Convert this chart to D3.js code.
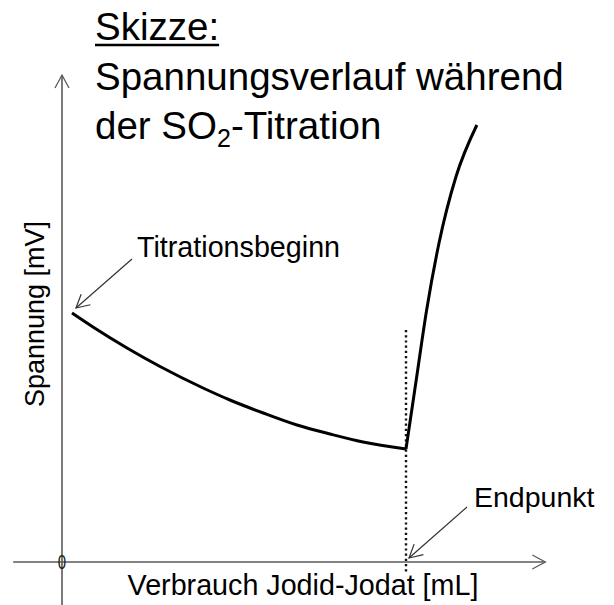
<!DOCTYPE html>
<html>
<head>
<meta charset="utf-8">
<script src="https://cdn.jsdelivr.net/npm/d3@7"></script>
<style>
  html, body { margin: 0; padding: 0; background: #fff; }
  svg { display: block; font-family: "Liberation Sans", Arial, sans-serif; }
</style>
</head>
<body>
<svg id="chart" width="614" height="605"></svg>
<script>
// ---- data (sketch values) ----
const fallVolume  = [0.29, 0.90, 1.89, 2.85, 4.10, 4.88, 5.85, 6.83, 7.79, 8.75, 10.0];
const fallVoltage = [249, 235, 214, 195.5, 174, 162, 149, 137, 128, 120, 113];
const riseVolume  = [10.0, 10.125, 10.31, 10.60, 10.96, 11.45, 12.06];
const riseVoltage = [113, 142, 185, 252, 319, 385, 437];
const endpointVolume = 10.0;
const endpointVoltageRange = [-10, 232];
const originLabel = "0";
const titleLines = ["Skizze:", "Spannungsverlauf während", "der SO", "2", "-Titration"];
const xLabel = "Verbrauch Jodid-Jodat [mL]";
const yLabel = "Spannung [mV]";
const startLabel = "Titrationsbeginn";
const endLabel = "Endpunkt";

// ---- layout ----
const svg = d3.select("#chart");
const x = d3.scaleLinear().domain([0, 10]).range([62, 406]);
const y = d3.scaleLinear().domain([0, 500]).range([562, 62]);
const xAxisExtent = [-1.42, 14.05];
const yAxisExtent = [-43, 487];
const axisColor = "#5a5a5a";

// arrowhead marker (open chevron)
const defs = svg.append("defs");
function chevron(id, size, color, width) {
  defs.append("marker")
    .attr("id", id)
    .attr("viewBox", "-14 -8 16 16")
    .attr("refX", 0).attr("refY", 0)
    .attr("markerWidth", size).attr("markerHeight", size)
    .attr("markerUnits", "userSpaceOnUse")
    .attr("orient", "auto")
    .append("path")
    .attr("d", "M-13,-7 L0,0 L-13,7")
    .attr("fill", "none")
    .attr("stroke", color)
    .attr("stroke-width", width);
}
chevron("axArrow", 16, axisColor, 1.3);
chevron("annArrow", 16, "#333", 1.2);

// axes
svg.append("line")
  .attr("x1", x(xAxisExtent[0])).attr("y1", y(0))
  .attr("x2", x(xAxisExtent[1])).attr("y2", y(0))
  .attr("stroke", axisColor).attr("stroke-width", 1.6)
  .attr("marker-end", "url(#axArrow)");
svg.append("line")
  .attr("x1", x(0)).attr("y1", y(yAxisExtent[0]))
  .attr("x2", x(0)).attr("y2", y(yAxisExtent[1]))
  .attr("stroke", axisColor).attr("stroke-width", 1.6)
  .attr("marker-end", "url(#axArrow)");

// origin label
svg.append("text")
  .attr("x", x(0)).attr("y", y(0) + 7)
  .attr("text-anchor", "middle")
  .attr("font-size", 20).attr("fill", "#222")
  .attr("transform", `translate(${x(0)},${y(0)}) scale(0.75,1) translate(${-x(0)},${-y(0)})`)
  .text(originLabel);

// dotted endpoint line
svg.append("line")
  .attr("x1", x(endpointVolume)).attr("y1", y(endpointVoltageRange[1]))
  .attr("x2", x(endpointVolume)).attr("y2", y(endpointVoltageRange[0]))
  .attr("stroke", "#111").attr("stroke-width", 2.4)
  .attr("stroke-dasharray", "2.2,3");

// curve
const line = d3.line().x(d => x(d[0])).y(d => y(d[1])).curve(d3.curveMonotoneX);
const fall = fallVolume.map((v, i) => [v, fallVoltage[i]]);
const rise = riseVolume.map((v, i) => [v, riseVoltage[i]]);
svg.append("path")
  .attr("d", line(fall) + line(rise))
  .attr("fill", "none").attr("stroke", "#000")
  .attr("stroke-width", 3).attr("stroke-linejoin", "miter")
  .attr("stroke-linecap", "butt");

// axis labels
svg.append("text")
  .attr("x", 303).attr("y", 595)
  .attr("text-anchor", "middle")
  .attr("font-size", 28.7).attr("fill", "#000")
  .text(xLabel);
svg.append("text")
  .attr("transform", "translate(44,314) rotate(-90)")
  .attr("text-anchor", "middle")
  .attr("font-size", 27).attr("fill", "#000")
  .text(yLabel);

// title
const t0 = svg.append("text")
  .attr("x", 95).attr("y", 40)
  .attr("font-size", 38.5).attr("fill", "#000")
  .text(titleLines[0]);
const w0 = t0.node().getComputedTextLength();
svg.append("line")
  .attr("x1", 95).attr("x2", 95 + w0)
  .attr("y1", 45).attr("y2", 45)
  .attr("stroke", "#000").attr("stroke-width", 2.5);
svg.append("text")
  .attr("x", 95).attr("y", 90)
  .attr("font-size", 38.5).attr("fill", "#000")
  .text(titleLines[1]);
const t2 = svg.append("text")
  .attr("x", 95).attr("y", 139)
  .attr("font-size", 38.5).attr("fill", "#000");
t2.append("tspan").text(titleLines[2]);
t2.append("tspan").attr("font-size", 25).attr("dy", 8).text(titleLines[3]);
t2.append("tspan").attr("dy", -8).text(titleLines[4]);

// annotations
svg.append("text")
  .attr("x", 137).attr("y", 257)
  .attr("font-size", 28.7).attr("fill", "#000")
  .text(startLabel);
svg.append("line")
  .attr("x1", 132).attr("y1", 259)
  .attr("x2", x(fallVolume[0]) + 4).attr("y2", y(fallVoltage[0]) - 5)
  .attr("stroke", "#333").attr("stroke-width", 1.2)
  .attr("marker-end", "url(#annArrow)");

svg.append("text")
  .attr("x", 474).attr("y", 507)
  .attr("font-size", 28.5).attr("fill", "#000")
  .text(endLabel);
svg.append("line")
  .attr("x1", 467).attr("y1", 507)
  .attr("x2", x(endpointVolume) + 3).attr("y2", y(0) - 4)
  .attr("stroke", "#333").attr("stroke-width", 1.2)
  .attr("marker-end", "url(#annArrow)");
</script>
</body>
</html>
